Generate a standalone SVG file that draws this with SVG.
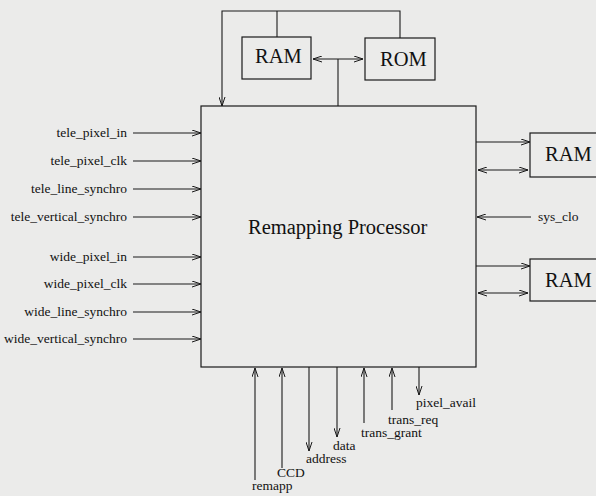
<svg xmlns="http://www.w3.org/2000/svg" width="596" height="496" viewBox="0 0 596 496">
<style>
.bg{fill:#ebebea}
.box{fill:none;stroke:#1a1a1a;stroke-width:1.2}
.ln{fill:none;stroke:#1a1a1a;stroke-width:1.1}
.a{marker-end:url(#ah)}
.b{marker-end:url(#ah);marker-start:url(#ah)}
.big{font-family:"Liberation Serif","Times New Roman",serif;font-size:20.5px;fill:#111}
.sig{font-family:"Liberation Serif","Times New Roman",serif;font-size:13.5px;fill:#111}
.r{text-anchor:end}
</style>
<defs>
<marker id="ah" viewBox="0 0 9 7" refX="9" refY="3.5" markerWidth="9" markerHeight="7" markerUnits="userSpaceOnUse" orient="auto-start-reverse">
<path d="M0,0.5 L9,3.5 L0,6.5" fill="none" stroke="#1a1a1a" stroke-width="1"/>
</marker>
</defs>
<rect class="bg" x="0" y="0" width="596" height="496"/>

<g id="processor">
<rect class="box" x="201" y="106" width="275" height="261"/>
<text class="big" x="248" y="234">Remapping Processor</text>
</g>
<g id="ram_top">
<rect class="box" x="242" y="37" width="69" height="42"/>
<text class="big" x="255" y="63">RAM</text>
</g>
<g id="rom_top">
<rect class="box" x="365" y="38" width="70" height="42"/>
<text class="big" x="380" y="66">ROM</text>
</g>
<g id="ram_right1">
<rect class="box" x="530" y="133" width="80" height="44"/>
<text class="big" x="545" y="161">RAM</text>
</g>
<g id="ram_right2">
<rect class="box" x="530" y="259" width="80" height="42"/>
<text class="big" x="545" y="287">RAM</text>
</g>

<g id="connectors">
<polyline class="ln a" points="400,38 400,11 222,11 222,106"/>
<line class="ln" x1="277" y1="11" x2="277" y2="37"/>
<line class="ln b" x1="313" y1="59" x2="363" y2="59"/>
<line class="ln" x1="338" y1="59" x2="338" y2="106"/>

<line class="ln a" x1="133" y1="133" x2="201" y2="133"/>
<line class="ln a" x1="133" y1="161" x2="201" y2="161"/>
<line class="ln a" x1="133" y1="189" x2="201" y2="189"/>
<line class="ln a" x1="133" y1="217" x2="201" y2="217"/>
<line class="ln a" x1="133" y1="257" x2="201" y2="257"/>
<line class="ln a" x1="133" y1="284" x2="201" y2="284"/>
<line class="ln a" x1="133" y1="312" x2="201" y2="312"/>
<line class="ln a" x1="133" y1="339" x2="201" y2="339"/>

<line class="ln a" x1="476" y1="142" x2="530" y2="142"/>
<line class="ln b" x1="478" y1="170" x2="528" y2="170"/>
<line class="ln a" x1="531" y1="217" x2="477" y2="217"/>
<line class="ln a" x1="476" y1="266" x2="530" y2="266"/>
<line class="ln b" x1="478" y1="293" x2="528" y2="293"/>

<line class="ln a" x1="255" y1="480" x2="255" y2="368"/>
<line class="ln a" x1="282" y1="468" x2="282" y2="368"/>
<line class="ln a" x1="309" y1="367" x2="309" y2="451"/>
<line class="ln a" x1="337" y1="367" x2="337" y2="437"/>
<line class="ln a" x1="364" y1="423" x2="364" y2="368"/>
<line class="ln a" x1="392" y1="410" x2="392" y2="368"/>
<line class="ln a" x1="419" y1="367" x2="419" y2="395"/>
</g>

<g id="labels">
<text class="sig r" x="127" y="137">tele_pixel_in</text>
<text class="sig r" x="127" y="165">tele_pixel_clk</text>
<text class="sig r" x="127" y="193">tele_line_synchro</text>
<text class="sig r" x="127" y="221">tele_vertical_synchro</text>
<text class="sig r" x="127" y="261">wide_pixel_in</text>
<text class="sig r" x="127" y="288">wide_pixel_clk</text>
<text class="sig r" x="127" y="316">wide_line_synchro</text>
<text class="sig r" x="127" y="343">wide_vertical_synchro</text>
<text class="sig" x="538" y="221">sys_clo</text>
<text class="sig" x="252" y="490">remapp</text>
<text class="sig" x="277" y="477">CCD</text>
<text class="sig" x="306" y="463">address</text>
<text class="sig" x="333" y="450">data</text>
<text class="sig" x="361" y="437">trans_grant</text>
<text class="sig" x="388" y="424">trans_req</text>
<text class="sig" x="416" y="407">pixel_avail</text>
</g>
</svg>
